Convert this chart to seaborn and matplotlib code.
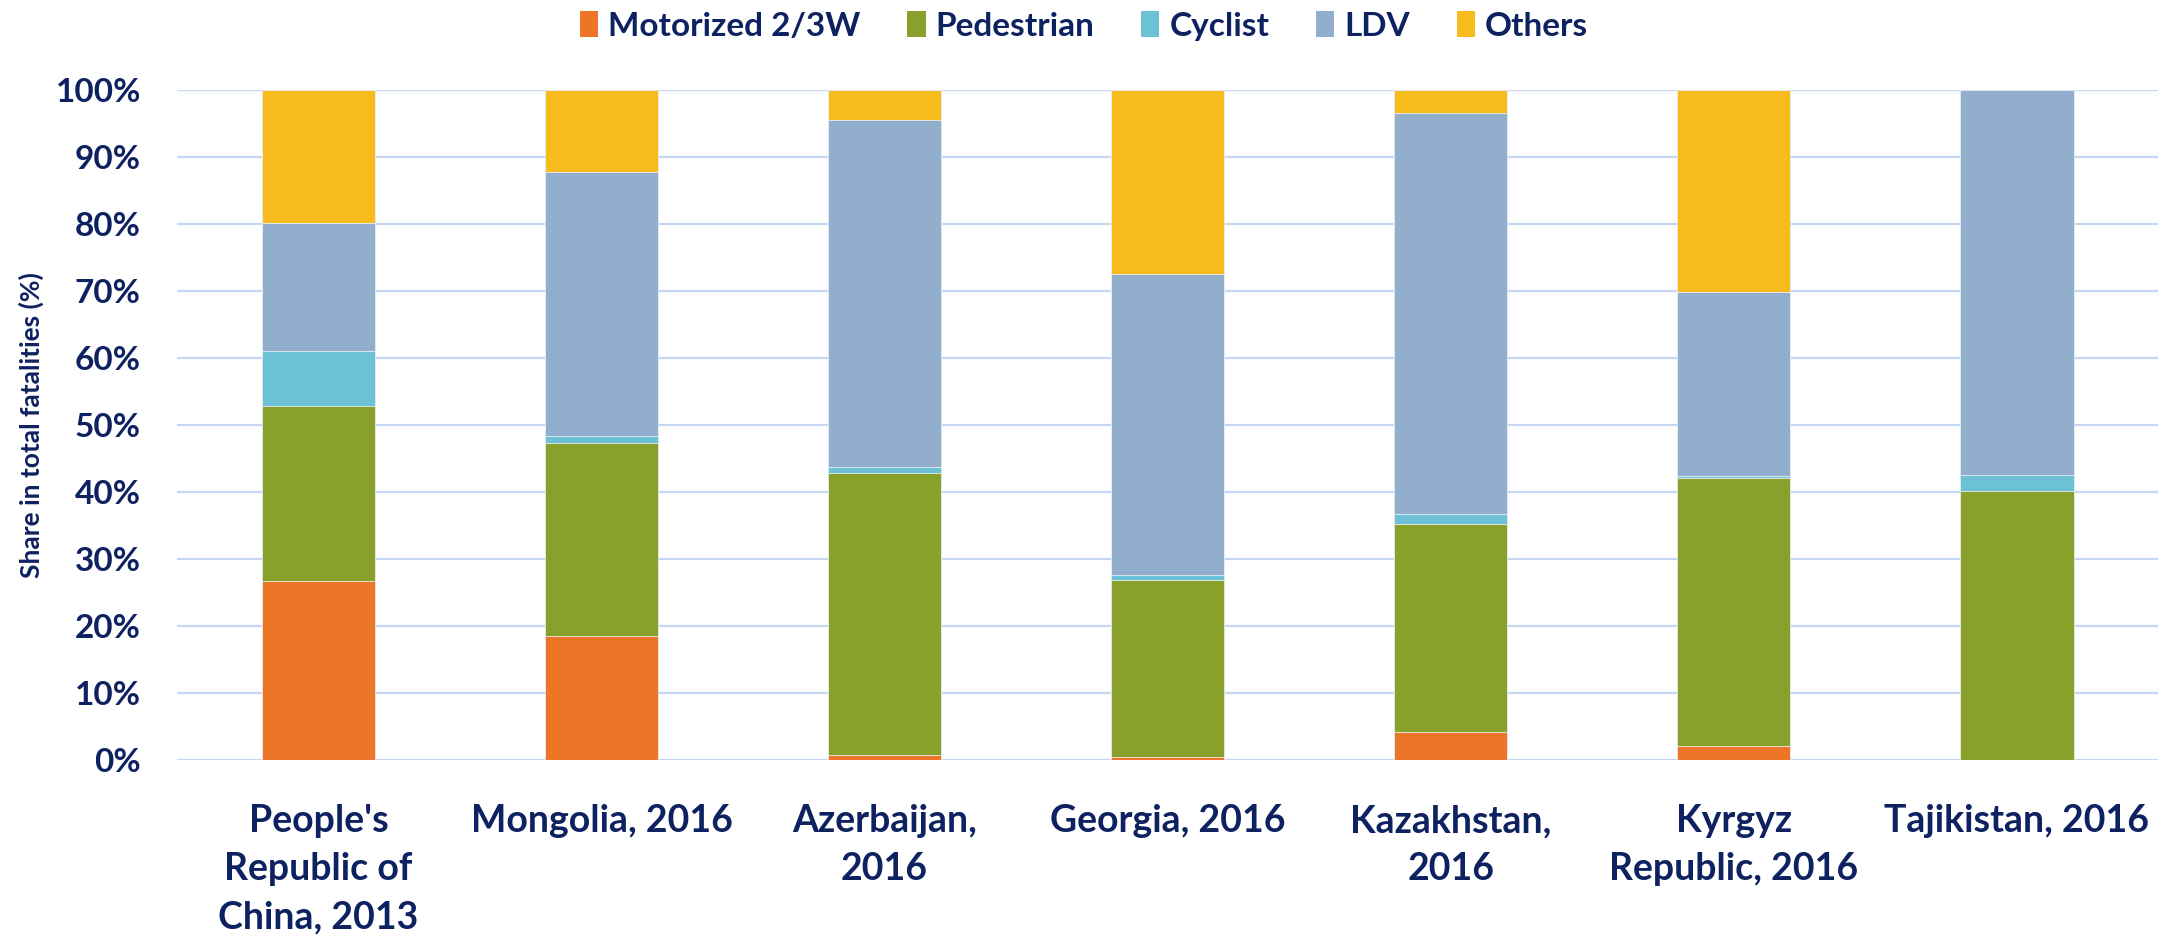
import matplotlib
matplotlib.use("Agg")
import matplotlib.pyplot as plt
import seaborn as sns
import numpy as np
import pandas as pd
from matplotlib.patches import Patch
from matplotlib.ticker import PercentFormatter

categories = ["People's\nRepublic of\nChina, 2013", "Mongolia, 2016", "Azerbaijan,\n2016",
              "Georgia, 2016", "Kazakhstan,\n2016", "Kyrgyz\nRepublic, 2016", "Tajikistan, 2016"]
series_names = ["Motorized 2/3W", "Pedestrian", "Cyclist", "LDV", "Others"]
motorized = [26.7, 18.5, 0.8, 0.5, 4.2, 2.1, 0.0]
pedestrian = [26.1, 28.8, 42.1, 26.4, 31.0, 40.0, 40.2]
cyclist = [8.2, 1.1, 0.9, 0.7, 1.6, 0.3, 2.3]
ldv = [19.2, 39.4, 51.8, 45.0, 59.8, 27.5, 57.5]
others = [19.8, 12.2, 4.4, 27.4, 3.4, 30.1, 0.0]
colors = ["#EC7527", "#89A12A", "#6CC2D4", "#91AFCC", "#F7BB1E"]
text_color = "#0E2160"

sns.set_theme(style="white")
plt.rcParams['font.family'] = ['Lato', 'DejaVu Sans']
plt.rcParams['font.weight'] = 'bold'

fig = plt.figure(figsize=(21.68, 9.4), dpi=100)
ax = fig.add_axes([0.0816, 0.1915, 0.914, 0.7125])

layers = [motorized, pedestrian, cyclist, ldv, others]
cum = np.cumsum(np.array(layers), axis=0)
for i in range(len(layers) - 1, -1, -1):
    df = pd.DataFrame({"cat": categories, "val": cum[i]})
    sns.barplot(data=df, x="cat", y="val", color=colors[i], width=0.4, ax=ax,
                edgecolor="#E8EEF5", linewidth=0.6, saturation=1, zorder=3)

ax.set_ylim(0, 100)
ax.set_xlim(-0.5, len(categories) - 0.5)
ax.set_yticks(np.arange(0, 101, 10))
ax.yaxis.set_major_formatter(PercentFormatter(decimals=0))
ax.grid(axis="y", color="#C5D7F2", linewidth=1.6, zorder=0)
ax.set_axisbelow(True)
for s in ax.spines.values():
    s.set_visible(False)
ax.tick_params(axis="both", length=0, colors=text_color)
ax.tick_params(axis="y", labelsize=24, pad=26)
ax.tick_params(axis="x", labelsize=27, pad=32)
for lbl in ax.get_xticklabels():
    lbl.set_fontweight("bold")
    lbl.set_linespacing(1.5)
    lbl.set_verticalalignment("top")
for lbl in ax.get_yticklabels():
    lbl.set_fontweight("bold")
ax.set_xlabel("")
ax.set_ylabel("Share in total fatalities (%)", fontsize=19, fontweight="bold",
              color=text_color, labelpad=8)

handles = [Patch(facecolor=c, edgecolor="none") for c in colors]
leg = fig.legend(handles, series_names, loc="upper center", bbox_to_anchor=(0.5, 1.02),
                 ncol=5, frameon=False, fontsize=24, handlelength=0.55, handleheight=0.8,
                 handletextpad=0.3, columnspacing=1.4)
for t in leg.get_texts():
    t.set_color(text_color)
    t.set_fontweight("bold")

fig.savefig("out.png", dpi=100)
